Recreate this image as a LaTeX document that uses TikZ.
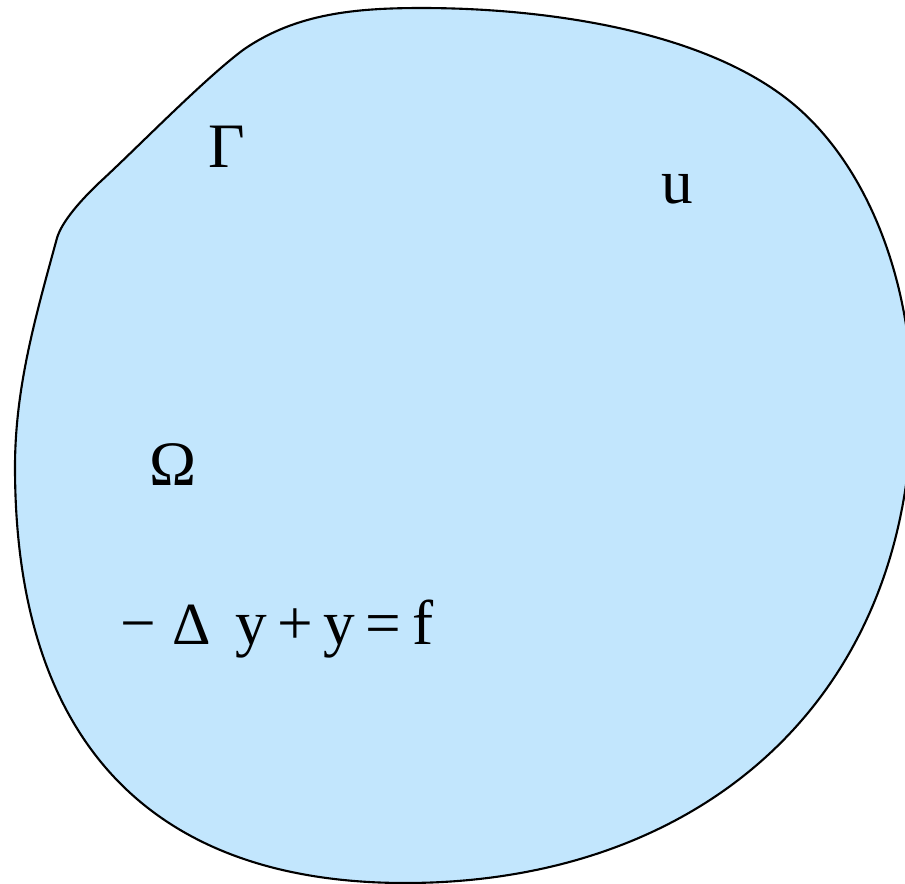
\documentclass[tikz,border=0pt]{standalone}
\usepackage{fontspec}
\setmainfont{Liberation Serif}
\definecolor{paleblue}{HTML}{C2E6FD}
\tikzset{lbl/.style={anchor=base west,inner sep=0pt,font=\fontsize{18}{20}\selectfont}}

\begin{document}
\begin{tikzpicture}[x=0.01cm,y=-0.01cm]
  \useasboundingbox (0,0) rectangle (905,884);
  \clip (0,0) rectangle (905,884);
  % the domain
  \draw[line width=0.6pt,fill=paleblue] (422,8)
    .. controls (540,8) and (708,29) .. (798,108)
    .. controls (873,174) and (912,290) .. (912,400)
    .. controls (912,700) and (700,883) .. (405,883)
    .. controls (150,883) and (15,740) .. (15,467)
    .. controls (15,387) and (36,315) .. (57,238)
    .. controls (62,221) and (82,199) .. (100,182)
    .. controls (137,148) and (203,80) .. (243,50)
    .. controls (296,13) and (357,8) .. (422,8) -- cycle;
  \node[lbl] (gamma) at (208,167) {Γ};
  \node[lbl] (u) at (661,203) {u};
  \node[lbl] (omega) at (149,485) {Ω};
  \node[lbl] (eq) at (120,644) {− {\fontsize{17}{17}\selectfont Δ}\hspace{7pt}y\hspace{3pt}+\hspace{3pt}y\hspace{3pt}=\hspace{3pt}f};
\end{tikzpicture}
\end{document}
